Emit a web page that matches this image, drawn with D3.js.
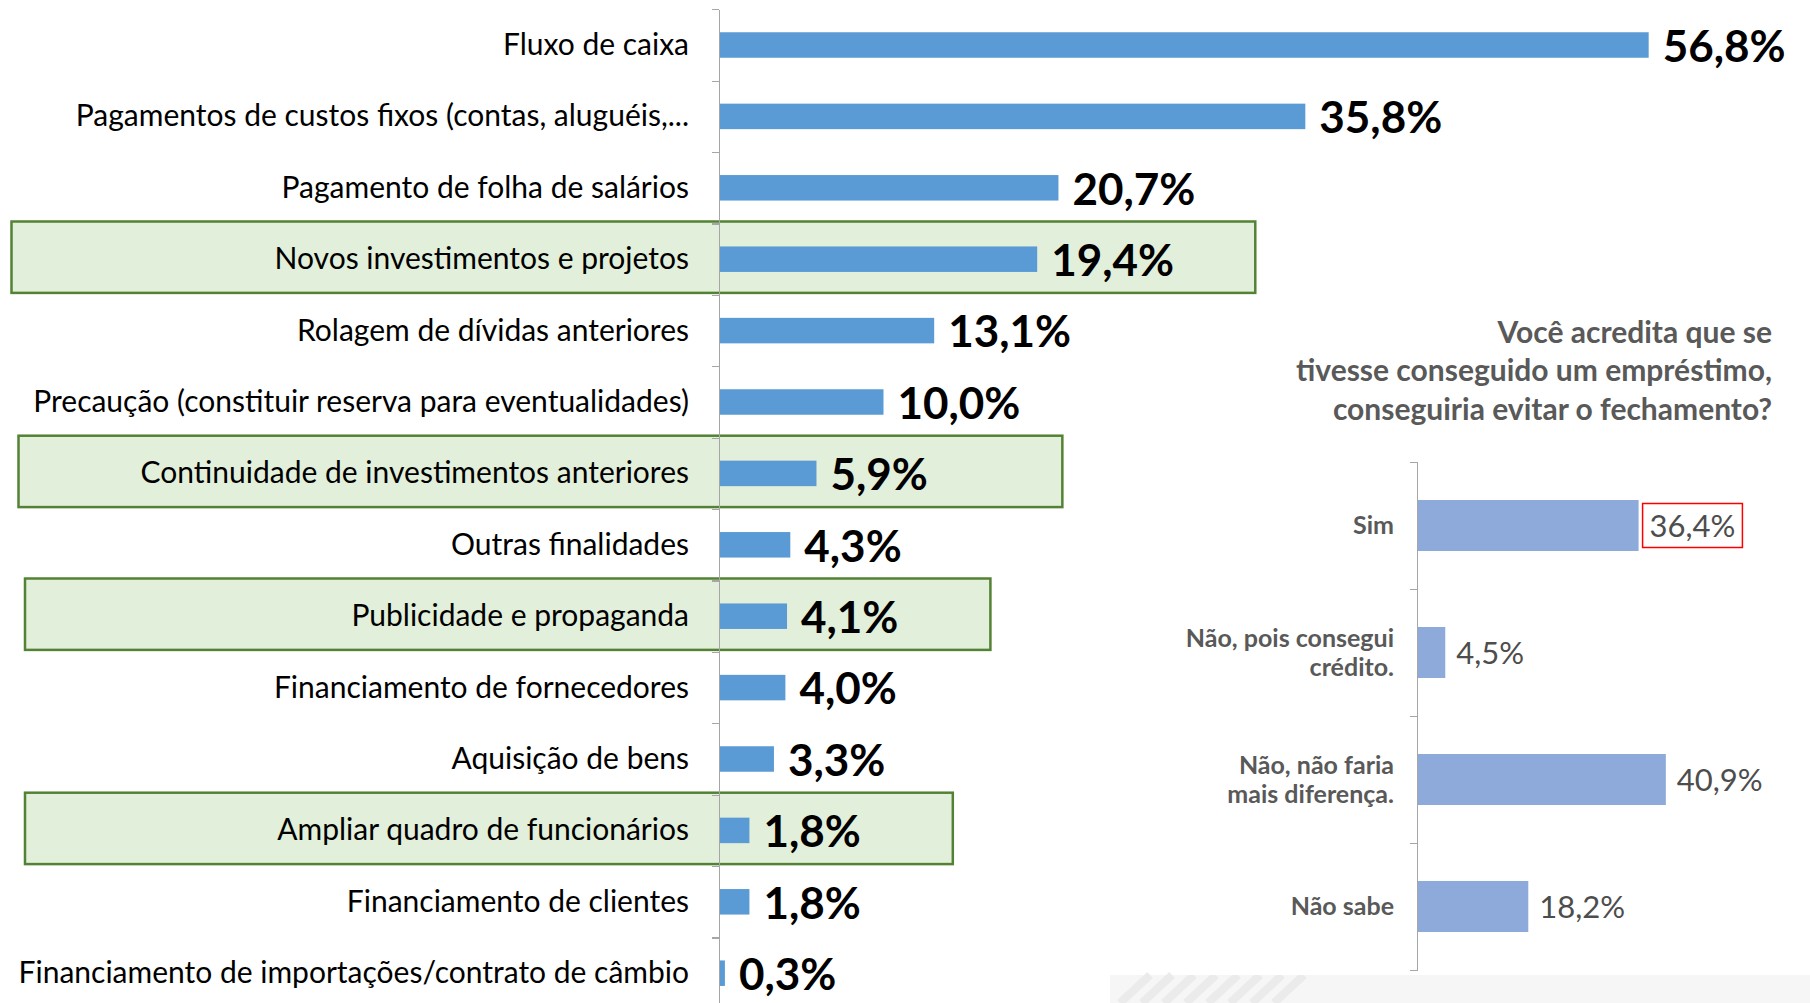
<!DOCTYPE html>
<meta charset="utf-8">
<style>

body { margin: 0; background: #fff; }
text { font-family: Lato, "Open Sans", sans-serif; }

.cat { font-size: 30px; fill: #000; }
.val { font-size: 44px; font-weight: 700; fill: #000; }
.bar { fill: #5b9bd5; }
.destaque { fill: #e2efda; stroke: #548235; stroke-width: 2.5px; }
.eixo path, .eixo line { stroke: #a6a6a6; stroke-width: 1.3px; shape-rendering: crispEdges; }

.titulo { font-size: 30px; font-weight: 700; fill: #595959; }
.cat2 { font-size: 25px; font-weight: 700; fill: #595959; }
.val2 { font-size: 31px; fill: #4d4d4d; }
.bar2 { fill: #8eaadb; }

</style>
<svg width="1810" height="1003"></svg>
<script src="https://cdn.jsdelivr.net/npm/d3@7/dist/d3.min.js"></script>
<script>

// finalidades do crédito
var finalidades = [
  "Fluxo de caixa",
  "Pagamentos de custos fixos (contas, aluguéis,...",
  "Pagamento de folha de salários",
  "Novos investimentos e projetos",
  "Rolagem de dívidas anteriores",
  "Precaução (constituir reserva para eventualidades)",
  "Continuidade de investimentos anteriores",
  "Outras finalidades",
  "Publicidade e propaganda",
  "Financiamento de fornecedores",
  "Aquisição de bens",
  "Ampliar quadro de funcionários",
  "Financiamento de clientes",
  "Financiamento de importações/contrato de câmbio"
];
var percentuais = [56.8, 35.8, 20.7, 19.4, 13.1, 10.0, 5.9, 4.3, 4.1, 4.0, 3.3, 1.8, 1.8, 0.3];

var destaques = [
  "Novos investimentos e projetos",
  "Continuidade de investimentos anteriores",
  "Publicidade e propaganda",
  "Ampliar quadro de funcionários"
];

// pergunta do painel da direita
var tituloLinhas = [
  "Você acredita que se",
  "tivesse conseguido um empréstimo,",
  "conseguiria evitar o fechamento?"
];
var respostas = ["Sim", "Não, pois consegui crédito.", "Não, não faria mais diferença.", "Não sabe"];
var respostasLinhas = [["Sim"], ["Não, pois consegui", "crédito."], ["Não, não faria", "mais diferença."], ["Não sabe"]];
var respostasPct = [36.4, 4.5, 40.9, 18.2];

var fmt = function(v) { return d3.format(".1f")(v).replace(".", ",") + "%"; };

var svg = d3.select("svg");

// fundo decorativo discreto no canto inferior direito
var fundo = svg.append("g");
fundo.append("rect")
    .attr("x", 1110).attr("y", 975).attr("width", 700).attr("height", 28)
    .attr("fill", "#f6f6f6");
fundo.selectAll("line")
    .data(d3.range(8))
  .enter().append("line")
    .attr("x1", function(d) { return 1120 + d * 22; }).attr("y1", 1003)
    .attr("x2", function(d) { return 1150 + d * 22; }).attr("y2", 975)
    .attr("stroke", "#ebebeb").attr("stroke-width", 8);

// ---------- gráfico da esquerda ----------
var x = d3.scaleLinear().domain([0, 60]).range([719, 719 + 16.35 * 60]);
var y = d3.scaleBand().domain(finalidades).range([9.3, 9.3 + 71.4 * finalidades.length]).paddingInner(0);
var barH = 25.5;

// caixas verdes (extensão em % na escala x, recuo à esquerda)
var caixas = [
  {cat: destaques[0], esq: 11.5, dir: 32.8},
  {cat: destaques[1], esq: 18.5, dir: 21.0},
  {cat: destaques[2], esq: 25, dir: 16.6},
  {cat: destaques[3], esq: 25, dir: 14.3}
];

svg.append("g").selectAll("rect")
    .data(caixas)
  .enter().append("rect")
    .attr("class", "destaque")
    .attr("x", function(d) { return d.esq; })
    .attr("y", function(d) { return y(d.cat) - 2; })
    .attr("width", function(d) { return x(d.dir) - d.esq; })
    .attr("height", y.bandwidth());

var yTicks = d3.scaleLinear().domain([0, finalidades.length]).range(y.range());
svg.append("g")
    .attr("class", "eixo")
    .attr("transform", "translate(" + x(0) + ",0)")
    .call(d3.axisLeft(yTicks).ticks(finalidades.length).tickSizeInner(7).tickSizeOuter(0).tickFormat(""));

svg.append("g").selectAll("rect")
    .data(percentuais)
  .enter().append("rect")
    .attr("class", "bar")
    .attr("x", x(0) + 1)
    .attr("y", function(d, i) { return y(finalidades[i]) + (y.bandwidth() - barH) / 2; })
    .attr("width", function(d) { return x(d) - x(0); })
    .attr("height", barH);

svg.append("g").selectAll("text")
    .data(finalidades)
  .enter().append("text")
    .attr("class", "cat")
    .attr("x", x(0) - 30)
    .attr("y", function(d) { return y(d) + y.bandwidth() / 2; })
    .attr("dy", "0.33em")
    .attr("text-anchor", "end")
    .text(function(d) { return d; });

svg.append("g").selectAll("text")
    .data(percentuais)
  .enter().append("text")
    .attr("class", "val")
    .attr("x", function(d) { return x(d) + 15; })
    .attr("y", function(d, i) { return y(finalidades[i]) + y.bandwidth() / 2; })
    .attr("dy", "0.38em")
    .text(fmt);

// ---------- painel da direita ----------
svg.append("g").selectAll("text")
    .data(tituloLinhas)
  .enter().append("text")
    .attr("class", "titulo")
    .attr("x", 1772)
    .attr("y", function(d, i) { return 332 + i * 38.5; })
    .attr("dy", "0.35em")
    .attr("text-anchor", "end")
    .text(function(d) { return d; });

svg.append("rect")
    .attr("x", 1178).attr("y", 446).attr("width", 600).attr("height", 529)
    .attr("fill", "#fff");

var x2 = d3.scaleLinear().domain([0, 60]).range([1417, 1417 + 6.06 * 60]);
var y2 = d3.scaleBand().domain(respostas).range([462, 970]).paddingInner(0);
var barH2 = 51;

var y2Ticks = d3.scaleLinear().domain([0, respostas.length]).range(y2.range());
svg.append("g")
    .attr("class", "eixo")
    .attr("transform", "translate(" + x2(0) + ",0)")
    .call(d3.axisLeft(y2Ticks).ticks(respostas.length).tickSizeInner(7).tickSizeOuter(7).tickFormat(""));

svg.append("g").selectAll("rect")
    .data(respostasPct)
  .enter().append("rect")
    .attr("class", "bar2")
    .attr("x", x2(0) + 1)
    .attr("y", function(d, i) { return y2(respostas[i]) + (y2.bandwidth() - barH2) / 2; })
    .attr("width", function(d) { return x2(d) - x2(0); })
    .attr("height", barH2);

var rotulos = svg.append("g").selectAll("text")
    .data(respostas)
  .enter().append("text")
    .attr("class", "cat2")
    .attr("text-anchor", "end")
    .attr("transform", function(d) { return "translate(" + (x2(0) - 23) + "," + (y2(d) + y2.bandwidth() / 2) + ")"; });

rotulos.selectAll("tspan")
    .data(function(d, i) { return respostasLinhas[i].map(function(l, j, a) { return {t: l, k: j, n: a.length}; }); })
  .enter().append("tspan")
    .attr("x", 0)
    .attr("y", function(d) { return (d.k - (d.n - 1) / 2) * 29; })
    .attr("dy", "0.35em")
    .text(function(d) { return d.t; });

var vals2 = svg.append("g").selectAll("text")
    .data(respostasPct)
  .enter().append("text")
    .attr("class", "val2")
    .attr("x", function(d) { return x2(d) + 12; })
    .attr("y", function(d, i) { return y2(respostas[i]) + y2.bandwidth() / 2; })
    .attr("dy", "0.36em")
    .text(fmt);

// moldura vermelha no "Sim"
var bb = vals2.nodes()[0].getBBox();
svg.append("rect")
    .attr("x", bb.x - 7).attr("y", y2(respostas[0]) + y2.bandwidth() / 2 - 22)
    .attr("width", bb.width + 14).attr("height", 44)
    .attr("fill", "none").attr("stroke", "#ff0000").attr("stroke-width", 1.5);

</script>
